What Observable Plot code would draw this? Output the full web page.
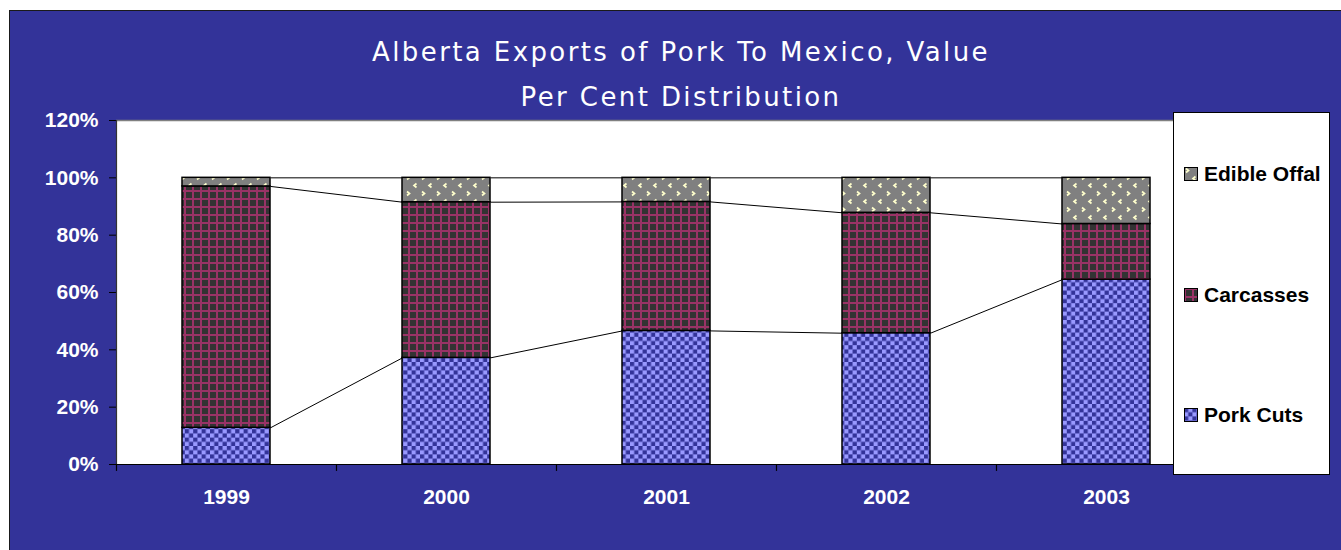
<!DOCTYPE html>
<html>
<head>
<meta charset="utf-8">
<script src="https://cdn.jsdelivr.net/npm/d3@7"></script>
<script src="https://cdn.jsdelivr.net/npm/@observablehq/plot@0.6"></script>
<style>
  html, body { margin: 0; padding: 0; background: #ffffff; width: 1341px; height: 550px; overflow: hidden; }
  #frame { position: absolute; left: 9px; top: 10px; width: 1340px; height: 548px; background: #333399; border: 1px solid #1a1a1a; box-sizing: border-box; }
  #title { position: absolute; left: 0; top: 30px; width: 1362px; text-align: center; color: #ffffff;
           font-family: "DejaVu Sans", sans-serif; font-size: 26px; letter-spacing: 2.4px; }
  #title div { height: 45px; line-height: 45px; }
  #chart { position: absolute; left: 0; top: 110px; }
  #chart svg text { fill: #ffffff; }
  #legend { position: absolute; left: 1173px; top: 112px; width: 157px; height: 363px; background: #ffffff;
            border: 1px solid #000; box-sizing: border-box; font-family: "Liberation Sans", Arial, sans-serif;
            font-weight: bold; font-size: 21px; color: #000; }
  .item { position: absolute; left: 10px; height: 24px; display: flex; align-items: center; }
  .item svg { margin-right: 6px; }
</style>
</head>
<body>
<div id="frame"></div>
<div id="title"><div>Alberta Exports of Pork To Mexico, Value</div><div>Per Cent Distribution</div></div>
<div id="chart"></div>
<div id="legend"></div>
<script>
// ---- data ----
const years = ["1999", "2000", "2001", "2002", "2003"];
const porkCuts = [12.8, 37.2, 46.6, 45.8, 64.5];
const carcasses = [84.2, 54.3, 45.0, 42.0, 19.4];
const edibleOffal = [3.0, 8.5, 8.4, 12.2, 16.1];
const seriesNames = ["Pork Cuts", "Carcasses", "Edible Offal"];
const yTicks = [0, 20, 40, 60, 80, 100, 120];

const seriesValues = [porkCuts, carcasses, edibleOffal];
const patternIds = ["pat-pork", "pat-carc", "pat-offal"];

// stacked segments
const segments = [];
const tops = seriesValues.map(() => []);
years.forEach((yr, i) => {
  let base = 0;
  seriesValues.forEach((vals, s) => {
    segments.push({ i, series: s, y1: base, y2: base + vals[i] });
    base += vals[i];
    tops[s][i] = base;
  });
});
// series lines between neighbouring bars
const links = [];
tops.forEach((t) => {
  for (let i = 0; i < years.length - 1; i++) {
    links.push({ x1: i + 0.2, x2: i + 0.8, y1: t[i], y2: t[i + 1] });
  }
});
const boundaries = d3.range(years.length + 1).map((k) => k - 0.5);

const barMarks = patternIds.map((pid, s) =>
  Plot.rectY(segments.filter((d) => d.series === s), {
    x1: (d) => d.i - 0.2, x2: (d) => d.i + 0.2, y1: "y1", y2: "y2",
    fill: `url(#${pid})`, stroke: "#000", strokeWidth: 1.5
  })
);

const chart = Plot.plot({
  width: 1341,
  height: 440,
  marginTop: 10,
  marginBottom: 86,
  marginLeft: 116,
  marginRight: 125,
  style: { background: "transparent", color: "#000", fontFamily: "Liberation Sans, Arial, sans-serif", fontSize: "21px", fontWeight: "bold", overflow: "visible" },
  x: { type: "linear", domain: [-0.5, years.length - 0.5], ticks: d3.range(years.length), tickFormat: (i) => years[i], tickSize: 0, tickPadding: 25, label: null },
  y: { domain: [0, 120], ticks: yTicks, tickFormat: (d) => d + "%", tickSize: 7, tickPadding: 11, label: null },
  marks: [
    Plot.frame({ fill: "#ffffff", stroke: null }),
    Plot.ruleY([120], { stroke: "#808080", strokeWidth: 1.5 }),
    Plot.link(links, { x1: "x1", x2: "x2", y1: "y1", y2: "y2", stroke: "#000", strokeWidth: 1 }),
    ...barMarks,
    Plot.ruleX([-0.5], { stroke: "#333", strokeWidth: 1.2 }),
    Plot.ruleY([0], { stroke: "#000", strokeWidth: 1.2 }),
    Plot.ruleX(boundaries, { y1: 0, y2: -2.4, stroke: "#000", strokeWidth: 1.2, clip: false })
  ]
});

// pattern definitions
const defs = d3.create("svg:defs");
// pork cuts: checkerboard
const p1 = defs.append("pattern").attr("id", "pat-pork").attr("patternUnits", "userSpaceOnUse").attr("width", 8.4).attr("height", 8.4);
p1.append("rect").attr("width", 8.4).attr("height", 8.4).attr("fill", "#9999ff");
p1.append("rect").attr("width", 4.2).attr("height", 4.2).attr("fill", "#333399");
p1.append("rect").attr("x", 4.2).attr("y", 4.2).attr("width", 4.2).attr("height", 4.2).attr("fill", "#333399");
// carcasses: dark squares with maroon grid
const p2 = defs.append("pattern").attr("id", "pat-carc").attr("patternUnits", "userSpaceOnUse").attr("width", 8).attr("height", 8);
p2.append("rect").attr("width", 8).attr("height", 8).attr("fill", "#993366");
p2.append("rect").attr("x", 2).attr("y", 2).attr("width", 6).attr("height", 6).attr("fill", "#333333");
// edible offal: grey with light yellow chevrons
const p3 = defs.append("pattern").attr("id", "pat-offal").attr("patternUnits", "userSpaceOnUse").attr("width", 15).attr("height", 16);
p3.append("rect").attr("width", 15).attr("height", 16).attr("fill", "#808080");
p3.append("path").attr("d", "M2,1.5 L4.5,3.5 L2,5.5").attr("fill", "none").attr("stroke", "#ffffcc").attr("stroke-width", 1.7);
p3.append("path").attr("d", "M11.5,9.5 L9,11.5 L11.5,13.5").attr("fill", "none").attr("stroke", "#ffffcc").attr("stroke-width", 1.7);
chart.insertBefore(defs.node(), chart.firstChild);

document.getElementById("chart").appendChild(chart);

// legend
const legend = document.getElementById("legend");
const itemTops = [49, 170, 290];
const order = [2, 1, 0];
order.forEach((s, k) => {
  const div = document.createElement("div");
  div.className = "item";
  div.style.top = itemTops[k] + "px";
  div.innerHTML = `<svg width="14" height="14"><rect x="0.5" y="0.5" width="13" height="13" fill="url(#${patternIds[s]})" stroke="#000" stroke-width="1"/></svg><span>${seriesNames[s]}</span>`;
  legend.appendChild(div);
});
</script>
</body>
</html>
